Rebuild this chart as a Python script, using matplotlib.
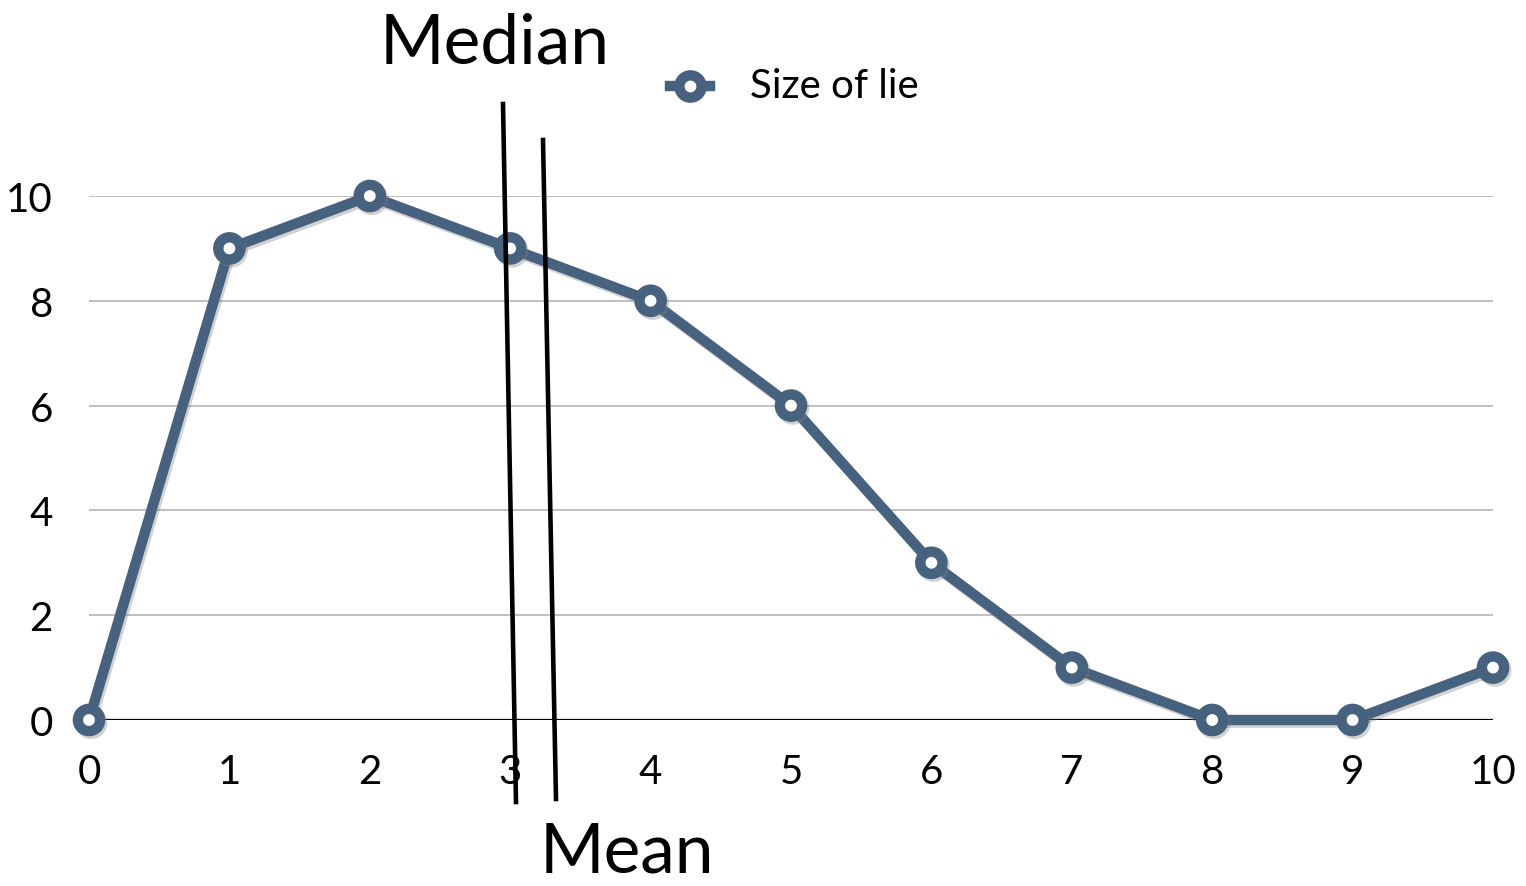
import matplotlib
matplotlib.use("Agg")
import matplotlib.pyplot as plt
from matplotlib.lines import Line2D
import matplotlib.patheffects as pe

plt.rcParams['font.family'] = ['Lato', 'DejaVu Sans']

x_vals = [0, 1, 2, 3, 4, 5, 6, 7, 8, 9, 10]
size_of_lie = [0, 9, 10, 9, 8, 6, 3, 1, 0, 0, 1]
y_ticks = [0, 2, 4, 6, 8, 10]
x_ticks = [0, 1, 2, 3, 4, 5, 6, 7, 8, 9, 10]
series_name = "Size of lie"

W, H = 1526, 887
fig = plt.figure(figsize=(W / 100, H / 100), dpi=100)
ax = fig.add_axes([89 / W, 166 / H, (1493 - 89) / W, (721 - 197) / H])
ax.set_xlim(0, 10)
ax.set_ylim(0, 10)

color = '#46627f'
for yv in y_ticks[1:]:
    ax.axhline(yv, color='#b5b5b5', lw=1.2, zorder=1)
ax.axhline(0, color='black', lw=1.6, zorder=1)

shadow = [pe.SimpleLineShadow(offset=(1.5, -2), shadow_color='gray', alpha=0.35), pe.Normal()]
ax.plot(x_vals, size_of_lie, color=color, lw=7.5, marker='o', ms=16, mew=7.5,
        mfc='white', mec=color, clip_on=False, zorder=3, path_effects=shadow)

for s in ax.spines.values():
    s.set_visible(False)
ax.set_xticks(x_ticks)
ax.set_yticks(y_ticks)
ax.set_xticklabels([str(v) for v in x_ticks])
ax.set_yticklabels([str(v) for v in y_ticks])
ax.tick_params(length=0, labelsize=29)
ax.tick_params(axis='x', pad=24)
ax.tick_params(axis='y', pad=26)

# Median / Mean annotation lines (figure pixel coordinates)
def fig_line(x0, y0, x1, y1):
    fig.add_artist(Line2D([x0 / W, x1 / W], [1 - y0 / H, 1 - y1 / H],
                          color='black', lw=3.3, transform=fig.transFigure, zorder=5))

fig_line(503, 105, 516, 803)
fig_line(543, 141, 556, 800)
fig.text(495 / W, 1 - 44 / H, "Median", fontsize=50, ha='center', va='center')
fig.text(627 / W, 1 - 853 / H, "Mean", fontsize=50, ha='center', va='center')

# Legend
fig.add_artist(Line2D([670 / W, 710 / W], [1 - 87 / H, 1 - 87 / H], color=color, lw=7.5,
                      transform=fig.transFigure))
fig.add_artist(Line2D([690 / W], [1 - 87 / H], color=color, marker='o', ms=16, mew=7.5,
                      mfc='white', mec=color, transform=fig.transFigure))
fig.text(750 / W, 1 - 87 / H, series_name, fontsize=29, ha='left', va='center')

fig.savefig("out.png", dpi=100)
